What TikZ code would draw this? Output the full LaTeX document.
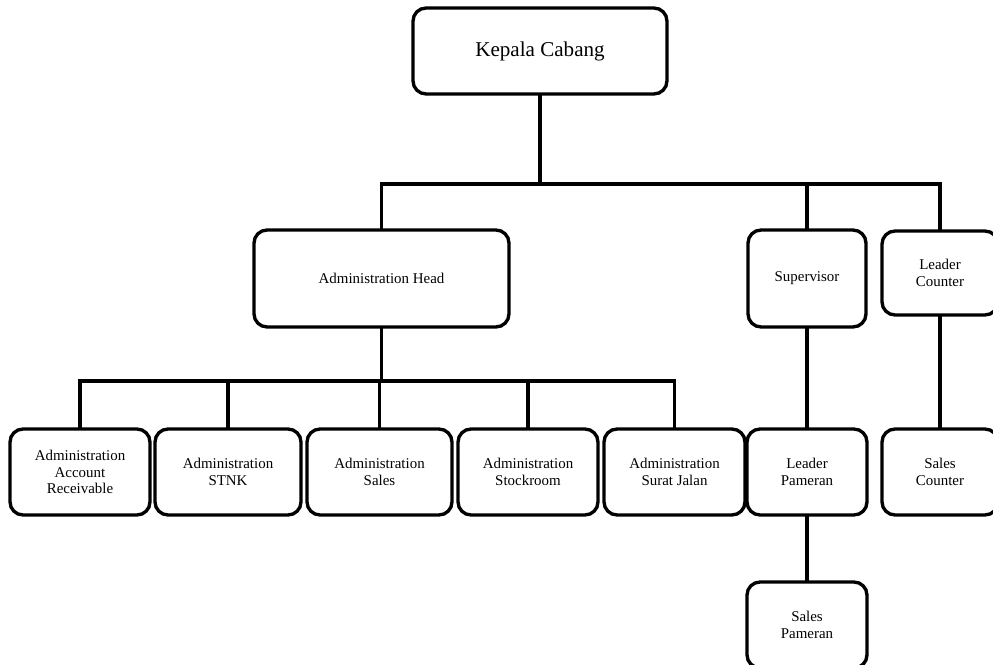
\documentclass[tikz,border=0pt]{standalone}
\usepackage{fontspec}
\setmainfont{Liberation Serif}
\usepackage{tikz}
\usetikzlibrary{positioning}
\tikzset{%
  % Specifications for style of connectors:
   branch/.style={
           line width=1.9pt,
           line cap=rect,},
  % Specifications for style of nodes:
   base/.style = {rectangle, rounded corners=0.26cm, draw=black,
                  line width=1.9pt, inner sep=1pt,
                  minimum width=2.8cm, minimum height=1.72cm,
                  align=center, font=\fontsize{8.5}{9.6}\selectfont},
   head/.style = {base, minimum width=5.08cm,
                  font=\fontsize{12}{14}\selectfont},
   middle/.style = {base, minimum height=1.94cm},
   narrow/.style = {base, minimum width=2.4cm},
}

\begin{document}
\begin{tikzpicture}[x=0.02cm, y=-0.02cm]

  \useasboundingbox (0,0) rectangle (993,665);
  \clip (0,0) rectangle (993,665);

  % Specification of nodes (position, etc.)
  \node (KC_block)  [head] at (540,51)  {Kepala Cabang};

  \node (AH_block)  [middle, minimum width=5.1cm] at (381.5,278.5) {Administration Head};
  \node (SV_block)  [middle, minimum width=2.36cm] at (807,278.5)  {Supervisor};
  \node (LC_block)  [base, minimum width=2.32cm, minimum height=1.68cm] at (940,273) {Leader\\Counter};

  \node (AAR_block) [base] at (80,472)                         {Administration\\Account\\Receivable};
  \node (AST_block) [base, minimum width=2.92cm] at (228,472)  {Administration\\STNK};
  \node (ASL_block) [base, minimum width=2.9cm] at (379.5,472) {Administration\\Sales};
  \node (ASR_block) [base] at (528,472)                        {Administration\\Stockroom};
  \node (ASJ_block) [base, minimum width=2.82cm] at (674.5,472) {Administration\\Surat Jalan};
  \node (LP_block)  [narrow] at (807,472)                      {Leader\\Pameran};
  \node (SC_block)  [base, minimum width=2.32cm] at (940,472)  {Sales\\Counter};
  \node (SP_block)  [narrow] at (807,625)                      {Sales\\Pameran};

  % Levels of the horizontal bars
  \coordinate (top_bar) at (0,184);
  \coordinate (low_bar) at (0,381);

  % Connectors
  \draw [branch] (KC_block.south) -- (KC_block.south |- top_bar);
  \draw [branch] (AH_block.north |- top_bar) -- (LC_block.north |- top_bar);
  \foreach \blk in {AH, SV, LC}
    \draw [branch] (\blk_block.north |- top_bar) -- (\blk_block.north);

  \draw [branch] (AH_block.south) -- (AH_block.south |- low_bar);
  \draw [branch] (AAR_block.north |- low_bar) -- (ASJ_block.north |- low_bar);
  \foreach \blk in {AAR, AST, ASL, ASR, ASJ}
    \draw [branch] (\blk_block.north |- low_bar) -- (\blk_block.north);

  \draw [branch] (SV_block.south) -- (LP_block.north);
  \draw [branch] (LC_block.south) -- (SC_block.north);
  \draw [branch] (LP_block.south) -- (SP_block.north);

\end{tikzpicture}
\end{document}
